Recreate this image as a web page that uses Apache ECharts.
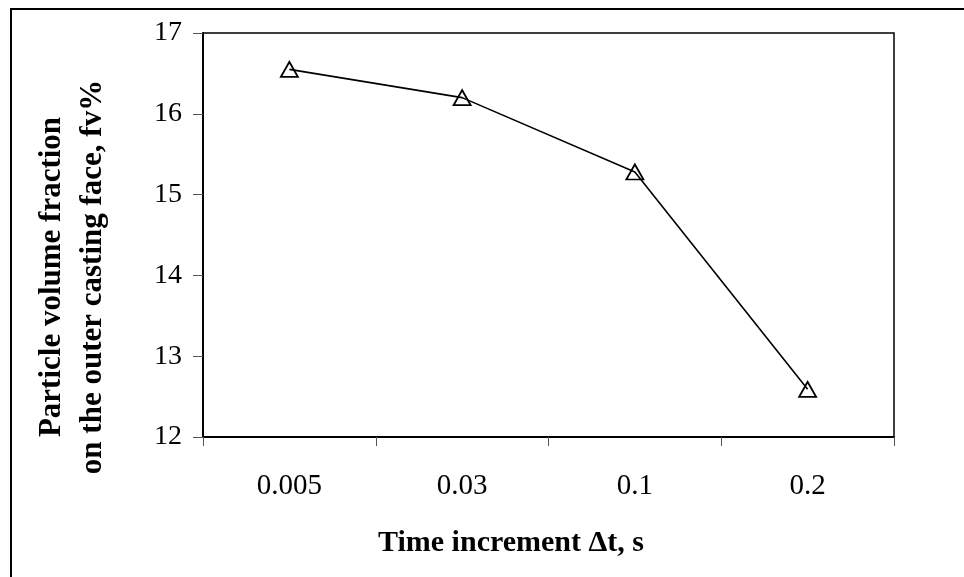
<!DOCTYPE html>
<html>
<head>
<meta charset="utf-8">
<script src="https://cdn.jsdelivr.net/npm/echarts@6/dist/echarts.min.js"></script>
<style>
  html, body { margin: 0; padding: 0; background: #fff; }
  #chart { width: 964px; height: 577px; }
</style>
</head>
<body>
<div id="chart"></div>
<script>
// Time increment categories (s) and resulting particle volume fraction (%)
const timeSteps = ['0.005', '0.03', '0.1', '0.2'];
const volumeFraction = [16.55, 16.2, 15.28, 12.59];
const yTicks = { min: 12, max: 17, step: 1 };

const xTitle = 'Time increment \u0394t, s';
const yTitleLines = ['Particle volume fraction', 'on the outer casting face, fv%'];

const font = '"Liberation Serif", "Times New Roman", serif';

const chart = echarts.init(document.getElementById('chart'), null, { renderer: 'canvas' });

chart.setOption({
  animation: false,
  backgroundColor: '#fff',
  textStyle: { fontFamily: font, color: '#000' },
  grid: {
    left: 203, top: 33, right: 70, bottom: 140,
    show: true, borderColor: '#000', borderWidth: 1.5, backgroundColor: 'transparent'
  },
  xAxis: {
    type: 'category',
    data: timeSteps,
    boundaryGap: true,
    axisLine: { lineStyle: { color: '#000', width: 2 } },
    axisTick: { show: true, length: 9, lineStyle: { color: '#555', width: 1 } },
    axisLabel: { fontFamily: font, fontSize: 29, color: '#000', margin: 35 },
    splitLine: { show: false }
  },
  yAxis: {
    type: 'value',
    min: yTicks.min, max: yTicks.max, interval: yTicks.step,
    axisLine: { show: true, lineStyle: { color: '#000', width: 2 } },
    axisTick: { show: true, length: 10, lineStyle: { color: '#555', width: 1 } },
    axisLabel: { fontFamily: font, fontSize: 28, color: '#000', margin: 21 },
    splitLine: { show: false }
  },
  series: [{
    type: 'line',
    data: volumeFraction,
    symbol: 'triangle',
    symbolSize: [17, 15],
    lineStyle: { color: '#000', width: 1.6 },
    itemStyle: { color: 'rgba(0,0,0,0)', borderColor: '#000', borderWidth: 1.8 },
    z: 3
  }],
  graphic: [
    {
      type: 'rect',
      shape: { x: 11, y: 9, width: 1000, height: 620 },
      style: { fill: 'none', stroke: '#000', lineWidth: 2 },
      silent: true
    },
    {
      type: 'text',
      x: 511, y: 543,
      style: {
        text: xTitle, font: 'bold 30px ' + font, fill: '#000',
        align: 'center', verticalAlign: 'middle'
      }
    },
    {
      type: 'text',
      x: 52, y: 277, rotation: Math.PI / 2,
      style: {
        text: yTitleLines[0], font: 'bold 31px ' + font, fill: '#000',
        align: 'center', verticalAlign: 'middle'
      }
    },
    {
      type: 'text',
      x: 93, y: 277, rotation: Math.PI / 2,
      style: {
        text: yTitleLines[1], font: 'bold 31px ' + font, fill: '#000',
        align: 'center', verticalAlign: 'middle'
      }
    }
  ]
});
</script>
</body>
</html>
